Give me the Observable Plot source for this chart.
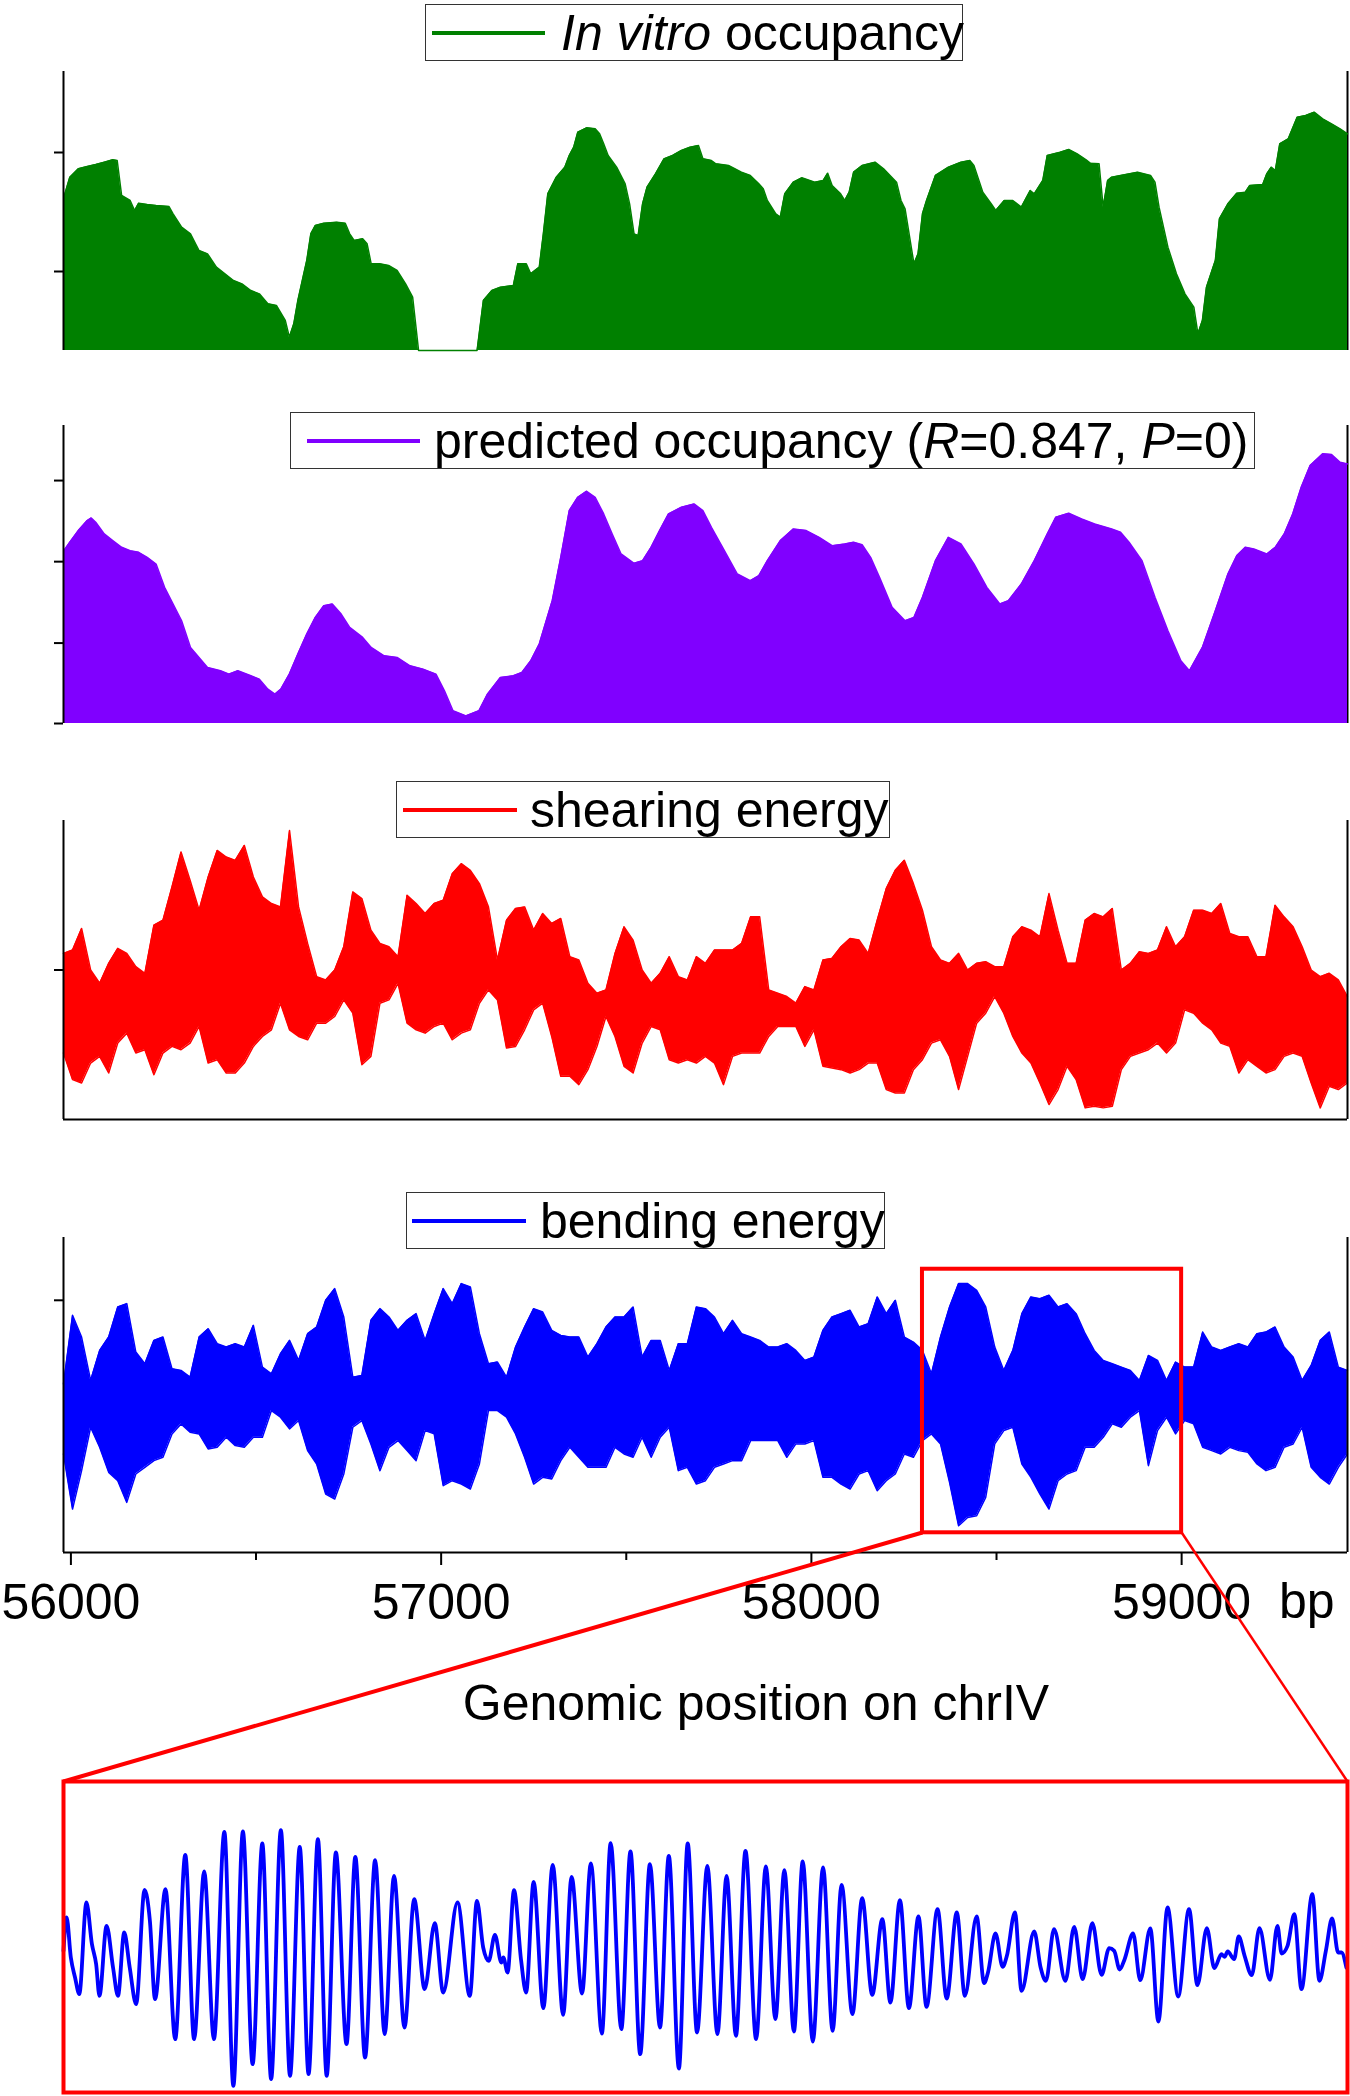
<!DOCTYPE html>
<html><head><meta charset="utf-8">
<script src="https://cdn.jsdelivr.net/npm/d3@7"></script>
<script src="https://cdn.jsdelivr.net/npm/@observablehq/plot@0.6"></script>
<style>
html,body{margin:0;padding:0;background:#fff;}
#fig{position:relative;width:1350px;height:2096px;overflow:hidden;background:#fff;font-family:"Liberation Sans",Arial,Helvetica,sans-serif;color:#000;}
.legend{position:absolute;box-sizing:border-box;border:1.5px solid #333;background:#fff;display:flex;align-items:center;font-size:50px;line-height:50px;white-space:nowrap;}
.legend .sw{display:inline-block;height:4px;flex:none;}
.txt{position:absolute;font-size:50px;line-height:50px;white-space:nowrap;}
</style></head><body><div id="fig"></div><script>
// ---------------- data ----------------
const xDomain = [55980, 59448];            // genomic position, bp
const majorTicks = [56000, 57000, 58000, 59000];
const minorTicks = [56500, 57500, 58500];
const zoomRange = [58300, 59000];          // region shown enlarged below
const zoomBoxEnergy = [0.59, 8.48];        // vertical extent of the zoom box (bending units)

// In vitro occupancy [bp, value]
const inVitro = [[55981,4.60],[55997,5.20],[56020,5.45],[56044,5.52],[56067,5.58],[56090,5.65],[56113,5.72],[56125,5.70],[56137,4.65],[56160,4.50],
[56172,4.20],[56183,4.42],[56206,4.38],[56230,4.35],[56265,4.32],[56276,4.10],[56299,3.70],[56323,3.50],[56346,3.00],[56369,2.90],
[56393,2.50],[56416,2.30],[56439,2.10],[56462,2.00],[56486,1.80],[56509,1.70],[56532,1.40],[56555,1.35],[56579,0.90],[56590,0.40],
[56602,0.80],[56613,1.50],[56625,2.10],[56637,2.70],[56648,3.50],[56660,3.75],[56683,3.82],[56718,3.85],[56741,3.82],[56753,3.50],
[56765,3.30],[56788,3.35],[56800,3.20],[56811,2.60],[56834,2.60],[56858,2.55],[56881,2.40],[56904,2.00],[56923,1.60],[56939,0],
[57097,0],[57114,1.50],[57137,1.80],[57160,1.90],[57195,1.95],[57207,2.60],[57230,2.60],[57242,2.30],[57253,2.40],[57265,2.50],
[57276,3.50],[57288,4.70],[57311,5.20],[57334,5.50],[57346,5.85],[57358,6.10],[57369,6.55],[57393,6.68],[57416,6.65],[57428,6.50],
[57439,6.20],[57451,5.85],[57474,5.50],[57497,5.00],[57509,4.40],[57521,3.50],[57532,3.45],[57544,4.40],[57556,4.90],[57579,5.30],
[57602,5.75],[57625,5.85],[57649,6.00],[57672,6.10],[57695,6.15],[57707,5.75],[57730,5.70],[57742,5.60],[57776,5.55],[57811,5.35],
[57835,5.25],[57858,5.00],[57870,4.85],[57881,4.50],[57904,4.10],[57916,4.00],[57928,4.70],[57951,5.05],[57974,5.18],[58009,5.05],
[58032,5.10],[58044,5.32],[58056,4.95],[58079,4.70],[58090,4.50],[58102,4.75],[58114,5.35],[58137,5.55],[58172,5.65],[58195,5.45],
[58230,5.05],[58242,4.50],[58253,4.25],[58277,2.60],[58288,2.90],[58300,4.10],[58311,4.50],[58335,5.25],[58370,5.50],[58404,5.65],
[58428,5.70],[58439,5.55],[58463,4.75],[58486,4.40],[58498,4.20],[58521,4.50],[58544,4.50],[58567,4.30],[58591,4.80],[58602,4.70],
[58625,5.10],[58637,5.85],[58672,5.95],[58695,6.03],[58718,5.90],[58742,5.72],[58753,5.62],[58777,5.60],[58788,4.30],[58800,5.10],
[58811,5.20],[58835,5.25],[58881,5.35],[58916,5.25],[58928,5.05],[58939,4.30],[58963,3.10],[58986,2.30],[59009,1.70],[59033,1.30],
[59044,0.50],[59056,0.90],[59067,1.90],[59091,2.70],[59102,3.95],[59125,4.40],[59149,4.72],[59172,4.75],[59184,4.95],[59219,4.98],
[59230,5.30],[59242,5.50],[59253,5.40],[59265,6.20],[59288,6.35],[59312,7.00],[59335,7.05],[59358,7.15],[59381,6.95],[59405,6.80],
[59428,6.65],[59448,6.50]];
const inVitroDomain = [0, 8.37];
const inVitroTicks = [2.37, 5.94];

// Predicted occupancy [bp, value]
const predicted = [[55981,5.18],[55997,5.43],[56020,5.78],[56044,6.08],[56055,6.16],[56067,6.03],[56090,5.68],[56113,5.48],[56137,5.28],[56160,5.18],
[56183,5.13],[56206,4.98],[56230,4.78],[56253,4.08],[56276,3.58],[56299,3.08],[56323,2.28],[56346,1.98],[56369,1.68],[56404,1.58],
[56427,1.48],[56451,1.58],[56486,1.43],[56509,1.33],[56532,1.03],[56551,0.88],[56567,1.03],[56590,1.48],[56613,2.08],[56637,2.68],
[56660,3.18],[56683,3.53],[56706,3.58],[56730,3.28],[56753,2.88],[56788,2.58],[56811,2.28],[56846,2.03],[56881,1.98],[56916,1.73],
[56951,1.63],[56986,1.48],[57009,0.98],[57032,0.38],[57067,0.23],[57102,0.38],[57125,0.88],[57160,1.38],[57195,1.43],[57218,1.53],
[57242,1.88],[57265,2.38],[57300,3.68],[57323,4.98],[57346,6.38],[57369,6.78],[57393,6.96],[57416,6.78],[57439,6.28],[57462,5.68],
[57486,5.08],[57521,4.80],[57544,4.88],[57567,5.28],[57590,5.78],[57614,6.28],[57649,6.48],[57683,6.58],[57707,6.38],[57730,5.88],
[57765,5.18],[57800,4.48],[57835,4.28],[57858,4.43],[57881,4.88],[57916,5.48],[57951,5.83],[57986,5.78],[58021,5.58],[58056,5.33],
[58090,5.38],[58114,5.43],[58137,5.36],[58160,4.98],[58184,4.38],[58218,3.48],[58253,3.08],[58277,3.18],[58300,3.78],[58335,4.88],
[58370,5.58],[58404,5.38],[58439,4.78],[58474,4.08],[58509,3.58],[58532,3.68],[58567,4.18],[58602,4.88],[58637,5.68],[58660,6.18],
[58695,6.30],[58730,6.13],[58765,5.98],[58811,5.83],[58835,5.73],[58858,5.43],[58893,4.88],[58928,3.78],[58963,2.78],[58998,1.88],
[59021,1.58],[59056,2.28],[59091,3.38],[59125,4.48],[59149,5.03],[59172,5.28],[59195,5.23],[59230,5.08],[59253,5.28],[59277,5.68],
[59300,6.28],[59323,7.08],[59347,7.73],[59381,8.08],[59405,8.06],[59428,7.83],[59448,7.78]];
const predictedDomain = [0, 8.93];
const predictedTicks = [0, 2.41, 4.85, 7.28];

// Shearing / bending energy: upper and lower envelope per sampling bin
const binStart = 55980, binStep = 24.42;
const shearHi = [5.00,5.10,5.75,4.50,4.10,4.70,5.15,5.00,4.60,4.40,5.85,6.00,7.00,8.05,7.20,6.30,7.30,8.10,7.90,7.80,
8.25,7.30,6.70,6.50,6.40,8.70,6.40,5.30,4.30,4.20,4.50,5.20,6.85,6.65,5.70,5.30,5.20,4.90,6.75,6.50,
6.20,6.50,6.60,7.40,7.70,7.50,7.10,6.40,4.80,6.00,6.35,6.40,5.70,6.20,5.90,6.05,4.90,4.80,4.10,3.80,
3.90,5.00,5.80,5.40,4.50,4.10,4.40,4.90,4.30,4.20,4.90,4.70,5.10,5.10,5.10,5.30,6.10,6.10,3.90,3.80,
3.70,3.50,4.00,3.90,4.80,4.85,5.20,5.45,5.40,5.00,6.00,6.95,7.50,7.80,7.10,6.30,5.20,4.80,4.70,5.00,
4.50,4.70,4.75,4.60,4.60,5.50,5.80,5.70,5.50,6.80,5.70,4.70,4.70,6.00,6.20,6.10,6.35,4.50,4.70,5.05,
5.00,5.10,5.80,5.20,5.50,6.30,6.30,6.20,6.50,5.60,5.50,5.50,4.90,4.90,6.45,6.10,5.80,5.20,4.50,4.30,
4.40,4.20,3.70];
const shearLo = [2.00,1.20,1.10,1.70,1.90,1.40,2.30,2.60,2.00,2.10,1.35,2.00,2.20,2.10,2.30,2.80,1.70,1.80,1.40,1.40,
1.70,2.20,2.50,2.70,3.50,2.70,2.50,2.40,2.90,2.90,3.10,3.60,3.20,1.65,1.90,3.50,3.60,4.10,2.90,2.70,
2.60,2.80,2.90,2.40,2.60,2.70,3.50,3.90,3.60,2.15,2.20,2.70,3.30,3.50,2.50,1.30,1.30,1.05,1.50,2.20,
3.10,2.50,1.60,1.40,2.30,2.80,2.70,1.80,1.70,1.80,1.70,1.90,1.70,1.05,1.90,2.00,2.00,2.00,2.50,2.80,
2.80,2.80,2.20,2.70,1.60,1.55,1.50,1.40,1.50,1.70,1.70,0.90,0.80,0.80,1.50,1.80,2.30,2.40,1.90,0.90,
1.90,2.90,3.20,3.70,3.20,2.50,2.00,1.70,1.10,0.45,0.90,1.60,1.20,0.35,0.40,0.35,0.40,1.50,1.90,2.00,
2.10,2.30,2.00,2.30,3.30,3.20,2.90,2.70,2.30,2.20,1.40,1.80,1.60,1.40,1.50,1.90,2.00,1.90,1.10,0.35,
1.00,0.90,1.10];
const shearDomain = [0, 9.0];
const shearTicks = [4.5];

const bendHi = [5.05,7.10,6.45,5.15,6.05,6.45,7.35,7.45,6.00,5.65,6.35,6.45,5.50,5.45,5.25,6.45,6.70,6.25,6.15,6.25,
6.15,6.80,5.55,5.35,5.95,6.35,5.75,6.55,6.75,7.55,7.90,7.05,5.25,5.30,6.95,7.30,7.05,6.65,6.95,7.15,
6.35,7.15,7.90,7.45,8.05,7.95,6.55,5.65,5.70,5.25,6.15,6.75,7.30,7.20,6.65,6.50,6.45,6.45,5.85,6.25,
6.75,7.05,7.05,7.35,5.85,6.35,6.35,5.45,6.25,6.25,7.35,7.30,7.05,6.55,6.95,6.55,6.45,6.35,6.15,6.15,
6.25,6.05,5.75,5.85,6.65,7.05,7.15,7.25,6.75,6.85,7.65,7.15,7.55,6.45,6.30,6.05,5.35,6.45,7.35,8.05,
8.05,7.85,7.35,6.15,5.45,6.05,7.15,7.65,7.60,7.70,7.35,7.45,7.15,6.55,6.05,5.75,5.65,5.55,5.45,5.15,
5.90,5.75,5.15,5.70,5.55,5.55,6.60,6.15,6.05,6.15,6.25,6.15,6.55,6.60,6.75,6.15,5.85,5.15,5.60,6.35,
6.60,5.55,5.45];
const bendLo = [2.95,1.30,2.45,3.75,3.15,2.40,2.15,1.50,2.35,2.55,2.75,2.85,3.55,3.85,3.60,3.55,3.10,3.15,3.45,3.20,
3.15,3.45,3.45,4.25,4.05,3.70,3.95,3.05,2.65,1.75,1.60,2.35,3.75,3.95,3.25,2.45,3.15,3.35,3.05,2.75,
3.65,3.55,2.00,2.15,2.05,1.90,2.65,4.25,4.25,4.05,3.55,2.85,2.05,2.25,2.20,2.75,3.15,2.85,2.55,2.55,
2.55,3.15,2.95,2.85,3.45,2.85,3.45,3.75,2.45,2.55,2.05,2.15,2.55,2.65,2.75,2.75,3.35,3.35,3.35,3.35,
2.85,3.25,3.25,3.35,2.25,2.25,2.05,1.90,2.35,2.45,1.85,2.15,2.35,2.95,2.85,3.35,3.55,3.25,2.10,0.80,
1.05,1.10,1.65,3.25,3.65,3.75,2.65,2.25,1.75,1.30,2.15,2.35,2.45,3.15,3.15,3.45,3.85,3.75,4.05,4.25,
2.60,3.65,4.05,3.55,3.95,3.85,3.15,3.05,2.95,3.15,3.05,3.00,2.65,2.45,2.55,3.15,3.25,3.75,2.55,2.25,
2.05,2.55,2.95];
const bendDomain = [0, 9.43];
const bendTicks = [7.55];

// Enlarged bending energy, 58300-59000 bp [bp, value]
const insetBending = [[58300.0,4.25],[58301.7,5.25],[58304.0,4.05],[58306.3,3.45],[58308.6,2.95],[58312.5,5.70],[58315.5,4.45],[58317.8,3.85],[58319.6,2.90],[58323.5,5.00],
[58327.0,3.75],[58329.7,2.90],[58333.1,4.80],[58336.1,3.75],[58339.6,2.65],[58344.2,6.08],[58347.1,5.15],[58349.9,2.80],[58355.6,6.10],[58360.9,1.60],
[58366.4,7.13],[58371.2,1.60],[58376.7,6.63],[58382.0,1.60],[58387.7,7.82],[58392.6,0.20],[58397.8,7.83],[58403.1,0.85],[58408.4,7.47],[58413.2,0.40],
[58418.5,7.87],[58423.5,0.50],[58428.8,7.37],[58433.6,0.55],[58438.7,7.60],[58443.5,0.50],[58448.5,7.20],[58454.3,1.45],[58459.1,7.07],[58464.4,1.05],
[58469.9,6.97],[58475.1,1.75],[58480.2,6.50],[58485.9,1.95],[58491.2,5.80],[58496.9,3.10],[58502.4,5.08],[58507.0,3.00],[58514.8,5.70],[58521.5,2.90],
[58525.4,5.75],[58528.8,4.35],[58531.8,3.95],[58535.2,4.73],[58538.7,3.90],[58539.8,4.05],[58542.1,3.60],[58545.6,6.07],[58549.5,3.95],[58552.2,3.00],
[58556.3,6.32],[58561.6,2.53],[58566.7,6.83],[58572.4,2.33],[58577.0,6.47],[58582.7,2.97],[58587.5,6.87],[58593.5,1.77],[58598.3,7.48],[58604.1,1.90],
[58609.1,7.23],[58614.4,1.15],[58619.7,6.85],[58625.2,1.95],[58630.0,7.10],[58635.5,0.72],[58640.3,7.47],[58645.4,1.80],[58651.0,6.80],[58656.5,1.75],
[58661.5,6.50],[58666.6,1.70],[58671.8,7.25],[58677.6,1.60],[58682.9,6.78],[58688.1,2.20],[58693.0,6.67],[58698.2,1.83],[58703.0,6.93],[58708.5,1.53],
[58714.1,6.75],[58719.3,1.85],[58724.2,6.23],[58730.1,2.35],[58735.4,5.83],[58740.9,2.93],[58746.4,5.20],[58750.8,2.70],[58756.0,5.77],[58760.9,2.53],
[58766.1,5.28],[58770.5,2.57],[58776.5,5.50],[58781.5,2.82],[58787.0,5.40],[58791.4,2.90],[58797.8,5.28],[58801.9,3.28],[58804.0,3.60],[58808.1,4.77],
[58812.0,3.77],[58814.3,4.10],[58818.7,5.40],[58822.3,3.05],[58829.2,4.83],[58832.7,3.75],[58835.6,3.35],[58840.0,4.90],[58846.2,3.35],[58851.0,4.97],
[58855.6,3.40],[58860.9,5.08],[58865.9,3.53],[58870.1,4.33],[58872.8,4.25],[58875.8,3.69],[58878.5,4.00],[58883.1,4.77],[58887.0,3.37],[58892.5,4.92],
[58896.9,2.13],[58901.9,5.55],[58907.7,2.88],[58913.6,5.50],[58918.2,3.22],[58923.3,4.93],[58927.4,3.73],[58931.3,4.15],[58932.9,4.07],[58934.7,4.23],
[58938.2,4.00],[58940.7,4.68],[58943.9,4.10],[58947.8,3.52],[58952.0,4.93],[58957.7,3.38],[58961.8,5.00],[58964.1,4.17],[58967.3,4.40],[58971.0,5.35],
[58974.9,3.10],[58980.8,5.95],[58984.7,3.35],[58988.2,4.25],[58991.6,5.22],[58994.9,4.20],[58996.7,4.20],[58999.4,3.75]];
const insetDomain = [0, 9.33];

// ---------------- drawing ----------------
const fig = document.getElementById("fig");
const FONT = '"Liberation Sans", Arial, Helvetica, sans-serif';
const GREEN = "#008000", PURPLE = "#8000ff", RED = "#ff0000", BLUE = "#0000ff";
const ML = 63, MR = 3;
const asObj = arr => arr.map(([pos, v]) => ({pos, v}));
const binned = (hi, lo) => hi.map((h, i) => ({pos: binStart + i * binStep, hi: h, lo: lo[i]}));

function place(svg, top) {
  svg.style.position = "absolute";
  svg.style.left = "0px";
  svg.style.top = top + "px";
  svg.style.overflow = "visible";
  svg.style.maxWidth = "none";
  fig.appendChild(svg);
}
function makePlot(opts) {
  return Plot.plot(Object.assign({
    width: 1350, marginLeft: ML, marginRight: MR,
    style: {background: "transparent", fontFamily: FONT, fontSize: "50px", color: "#000"}
  }, opts));
}
const yAxis = ticks => Plot.axisY({ticks, tickSize: 9, tickFormat: () => "", label: null, stroke: "#000", strokeWidth: 2});
const edgeRule = x => Plot.ruleX([x], {stroke: "#000", strokeWidth: 2});

// Panel 1: in vitro occupancy
place(makePlot({
  height: 279 + 20, marginTop: 10, marginBottom: 10,
  x: {domain: xDomain, axis: null}, y: {domain: inVitroDomain},
  marks: [
    edgeRule(xDomain[1]),
    Plot.areaY(asObj(inVitro), {x: "pos", y: "v", fill: GREEN}),
    Plot.lineY(asObj(inVitro), {x: "pos", y: "v", stroke: GREEN, strokeWidth: 1.5}),
    edgeRule(xDomain[0]),
    yAxis(inVitroTicks)
  ]
}), 61);

// Panel 2: predicted occupancy
place(makePlot({
  height: 298 + 20, marginTop: 10, marginBottom: 10,
  x: {domain: xDomain, axis: null}, y: {domain: predictedDomain},
  marks: [
    edgeRule(xDomain[1]),
    Plot.areaY(asObj(predicted), {x: "pos", y: "v", fill: PURPLE}),
    Plot.lineY(asObj(predicted), {x: "pos", y: "v", stroke: PURPLE, strokeWidth: 1.5}),
    edgeRule(xDomain[0]),
    yAxis(predictedTicks)
  ]
}), 415);

// Panel 3: shearing energy
const shear = binned(shearHi, shearLo);
place(makePlot({
  height: 299 + 20, marginTop: 10, marginBottom: 10,
  x: {domain: xDomain, axis: null}, y: {domain: shearDomain},
  marks: [
    Plot.areaY(shear, {x: "pos", y1: "lo", y2: "hi", fill: RED}),
    Plot.lineY(shear, {x: "pos", y: "hi", stroke: RED, strokeWidth: 1.5}),
    Plot.lineY(shear, {x: "pos", y: "lo", stroke: RED, strokeWidth: 1.5}),
    edgeRule(xDomain[0]), edgeRule(xDomain[1]),
    Plot.ruleY([shearDomain[0]], {stroke: "#000", strokeWidth: 2}),
    yAxis(shearTicks)
  ]
}), 810);

// Panel 4: bending energy with genomic axis and zoom box
const bend = binned(bendHi, bendLo);
place(makePlot({
  height: 315 + 90, marginTop: 10, marginBottom: 80,
  x: {domain: xDomain}, y: {domain: bendDomain},
  marks: [
    Plot.areaY(bend, {x: "pos", y1: "lo", y2: "hi", fill: BLUE}),
    Plot.lineY(bend, {x: "pos", y: "hi", stroke: BLUE, strokeWidth: 1.5}),
    Plot.lineY(bend, {x: "pos", y: "lo", stroke: BLUE, strokeWidth: 1.5}),
    edgeRule(xDomain[0]), edgeRule(xDomain[1]),
    Plot.ruleY([bendDomain[0]], {stroke: "#000", strokeWidth: 2}),
    yAxis(bendTicks),
    Plot.axisX({ticks: majorTicks, tickSize: 13, tickPadding: 18, tickFormat: d3.format("d"), label: null, stroke: "#000", strokeWidth: 2, fontSize: 50}),
    Plot.axisX({ticks: minorTicks, tickSize: 8, tickFormat: () => "", label: null, stroke: "#000", strokeWidth: 2}),
    Plot.rect([{x1: zoomRange[0], x2: zoomRange[1], y1: zoomBoxEnergy[0], y2: zoomBoxEnergy[1]}],
      {x1: "x1", x2: "x2", y1: "y1", y2: "y2", fill: "none", stroke: RED, strokeWidth: 4})
  ]
}), 1227);

// Connectors from zoom box to the enlarged view
place(makePlot({
  height: 249, marginTop: 0, marginBottom: 0,
  x: {domain: xDomain, axis: null}, y: {domain: [0, 1], axis: null},
  marks: [
    Plot.link([{x1: zoomRange[0], y1: 1, x2: xDomain[0], y2: 0}], {x1: "x1", y1: "y1", x2: "x2", y2: "y2", stroke: RED, strokeWidth: 4}),
    Plot.link([{x1: zoomRange[1], y1: 1, x2: xDomain[1], y2: 0}], {x1: "x1", y1: "y1", x2: "x2", y2: "y2", stroke: RED, strokeWidth: 2.5})
  ]
}), 1532);

// Enlarged view
place(makePlot({
  height: 311 + 8, marginTop: 4, marginBottom: 4,
  x: {domain: zoomRange, axis: null}, y: {domain: insetDomain, axis: null},
  marks: [
    Plot.lineY(asObj(insetBending), {x: "pos", y: "v", stroke: BLUE, strokeWidth: 3.8, curve: "monotone-x"}),
    Plot.frame({stroke: RED, strokeWidth: 4})
  ]
}), 1777);

// Legends
function legend(left, top, width, pad, sw, gap, color, html) {
  const d = document.createElement("div");
  d.className = "legend";
  Object.assign(d.style, {left: left + "px", top: top + "px", width: width + "px", height: "57px", paddingLeft: pad + "px"});
  const s = document.createElement("span");
  s.className = "sw";
  Object.assign(s.style, {width: sw + "px", background: color, marginRight: gap + "px"});
  const t = document.createElement("span");
  t.innerHTML = html;
  d.appendChild(s); d.appendChild(t);
  fig.appendChild(d);
}
legend(425, 4, 538, 6, 113, 16, GREEN, "<i>In vitro</i> occupancy");
legend(290, 412, 965, 16, 113, 14, PURPLE, "predicted occupancy (<i>R</i>=0.847, <i>P</i>=0)");
legend(396, 781, 494, 6, 114, 13, RED, "shearing energy");
legend(406, 1192, 479, 5, 114, 14, BLUE, "bending energy");

// Axis unit and title
function text(left, top, str, align, width) {
  const d = document.createElement("div");
  d.className = "txt";
  d.textContent = str;
  Object.assign(d.style, {left: left + "px", top: top + "px"});
  if (width) { d.style.width = width + "px"; d.style.textAlign = align; }
  fig.appendChild(d);
}
text(1279, 1576, "bp");
text(0, 1678, "Genomic position on chrIV", "center", 1512);
</script></body></html>
